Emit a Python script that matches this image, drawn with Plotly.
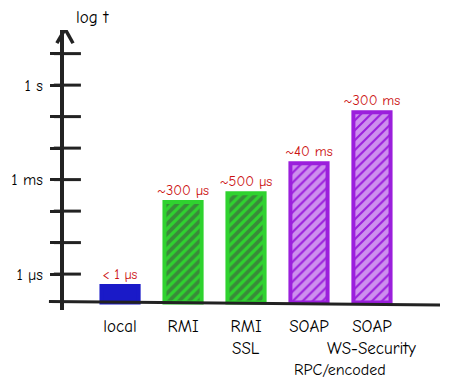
import plotly.graph_objects as go

# ---- data ----
categories = ["local", "RMI", "RMI SSL", "SOAP RPC/encoded", "SOAP WS-Security"]
tick_labels = ["local", "RMI", "RMI", "SOAP", "SOAP"]
second_lines = ["", "", "SSL", "", "WS-Security"]
third_line = "RPC/encoded"
# bar tops as drawn, in decades above 1 µs on the "log t" axis
bar_tops = [-0.38, 2.29, 2.57, 3.52, 5.14]
value_labels = ["< 1 µs", "~300 µs", "~500 µs", "~40 ms", "~300 ms"]
baseline = -0.9
y_tick_vals = [0, 1, 2, 3, 4, 5, 6, 7]
y_tick_text = ["1 µs", "", "", "1 ms", "", "", "1 s", ""]

colors = ["#1a1ac8", "#2fd22f", "#2fd22f", "#9b1fdc", "#9b1fdc"]
FONT = "Comic Sans MS, Comic Neue, DejaVu Sans, sans-serif"

fig = go.Figure()
fig.add_trace(go.Bar(
    x=categories,
    y=[t - baseline for t in bar_tops],
    base=baseline,
    width=0.59,
    marker=dict(
        color=colors,
        line=dict(color=colors, width=4),
        pattern=dict(shape=["", "/", "/", "/", "/"], fgcolor=colors,
                     bgcolor="white", size=7, solidity=[1, 0.55, 0.55, 0.7, 0.7]),
    ),
    text=value_labels,
    textposition="outside",
    constraintext="none",
    textfont=dict(color="#cc1111", size=[14, 14.5, 14.5, 14.5, 14.5], family=FONT),
    cliponaxis=False,
    hoverinfo="skip",
))

shapes = []
# x baseline
shapes.append(dict(type="line", xref="x domain", yref="y", x0=-0.04, x1=1.0,
                   y0=baseline + 0.03, y1=baseline - 0.08,
                   line=dict(color="#222", width=3)))
# crossing tick marks on the y axis
for v in y_tick_vals:
    shapes.append(dict(type="line", xref="x domain", yref="y", x0=-0.027, x1=0.045,
                       y0=v, y1=v, line=dict(color="#222", width=3)))
# arrow head
shapes.append(dict(type="line", xref="x domain", yref="y", x0=-0.019, x1=0.003,
                   y0=7.33, y1=7.78, line=dict(color="#222", width=3.5)))
shapes.append(dict(type="line", xref="x domain", yref="y", x0=0.024, x1=0.003,
                   y0=7.33, y1=7.78, line=dict(color="#222", width=3.5)))

annotations = [
    dict(text="log t", xref="x domain", yref="paper", x=0.077, y=1.043,
         xanchor="center", yanchor="middle",
         showarrow=False, font=dict(size=17, family=FONT, color="black")),
    dict(text=third_line, xref="x", yref="paper", x=3.49, y=-0.214,
         xanchor="center", yanchor="middle",
         showarrow=False, font=dict(size=16, family=FONT, color="black")),
]
for cat, line2 in zip(categories, second_lines):
    if line2:
        annotations.append(dict(text=line2, xref="x", yref="paper", x=cat, y=-0.139,
                                xanchor="center", yanchor="middle", showarrow=False,
                                font=dict(size=17, family=FONT, color="black")))

fig.update_layout(
    width=447, height=376,
    margin=dict(l=56, r=15, t=22, b=74),
    paper_bgcolor="white", plot_bgcolor="white",
    showlegend=False,
    shapes=shapes,
    font=dict(family=FONT, color="black", size=17),
    annotations=annotations,
)
fig.update_xaxes(
    type="category", range=[-0.89, 5.08],
    tickvals=categories, ticktext=tick_labels,
    showline=False, showgrid=False, zeroline=False, ticks="",
    tickangle=0, automargin=False, ticklabelstandoff=4,
    tickfont=dict(size=17, family=FONT, color="black"),
)
fig.update_yaxes(
    range=[-1.14, 7.75],
    tickvals=y_tick_vals, ticktext=y_tick_text,
    showline=True, linecolor="#222", linewidth=4,
    showgrid=False, zeroline=False, automargin=False,
    ticks="outside", ticklen=10, tickwidth=3, tickcolor="#222",
    ticklabelstandoff=4,
    tickfont=dict(size=16, family=FONT, color="black"),
)

fig.write_html("out.html")
